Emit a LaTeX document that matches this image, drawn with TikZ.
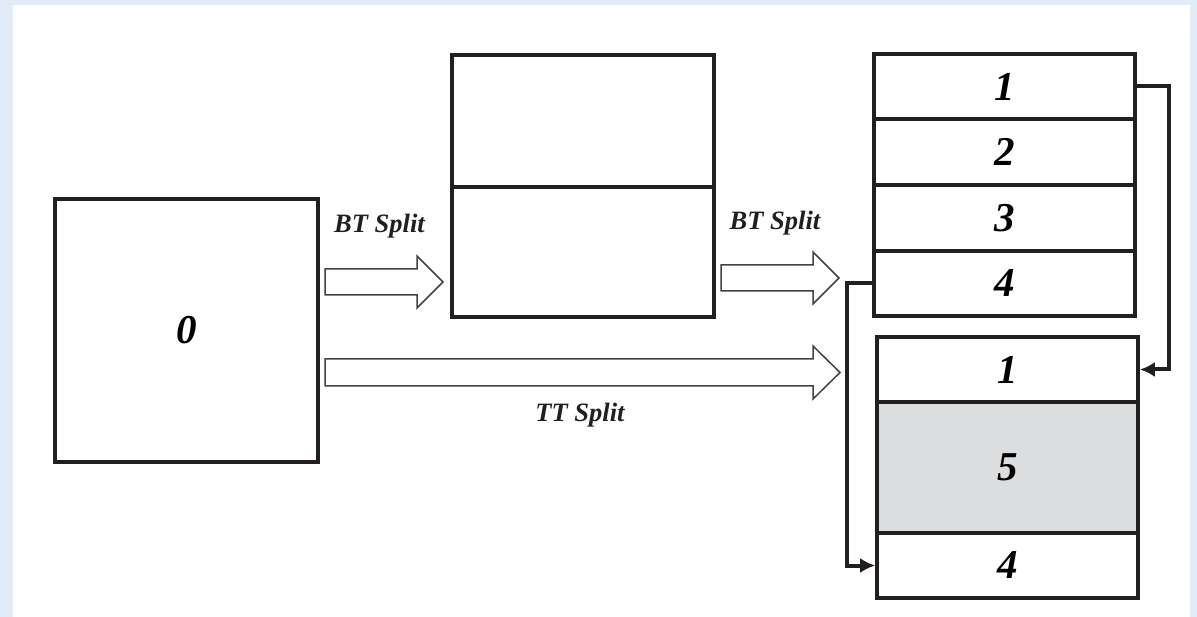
\documentclass[tikz,border=0pt]{standalone}
\usepackage{fontspec}
\setmainfont{Liberation Serif}
\usetikzlibrary{arrows.meta}
\definecolor{bgblue}{HTML}{E2ECF6}
\definecolor{ink}{HTML}{231F20}
\definecolor{cellgray}{HTML}{DCDDDF}
\begin{document}
\begin{tikzpicture}[x=1pt,y=-1pt,
  cell/.style={draw=ink, line width=3.6pt, minimum width=261pt, inner sep=0pt, font=\fontsize{41}{41}\selectfont\bfseries\itshape},
  lbl/.style={font=\fontsize{26.5}{26.5}\selectfont\bfseries\itshape, text=ink, inner sep=0pt},
  blockarrow/.style={draw=ink!85, line width=1.5pt, fill=white, line join=miter},
  conn/.style={draw=ink, line width=4pt, -{Latex[length=15pt,width=15pt]}}
]
\fill[bgblue] (0,0) rectangle (1197,617);
\fill[white] (13,5) rectangle (1190,617);
\useasboundingbox (0,0) rectangle (1197,617);

% box 0
\node[cell, minimum width=263pt, minimum height=263pt] (z) at (186.5,330.5) {0};

% middle box
\node[cell, minimum width=262pt, minimum height=132pt] (m1) at (583,121) {};
\node[cell, minimum width=262pt, minimum height=130pt] (m2) at (583,252) {};

% top right stack
\node[cell, minimum height=65pt] (t1) at (1004.5,86.5) {1};
\node[cell, minimum height=66pt] (t2) at (1004.5,152) {2};
\node[cell, minimum height=66pt] (t3) at (1004.5,218) {3};
\node[cell, minimum height=65pt] (t4) at (1004.5,283.5) {4};

% bottom right stack
\node[cell, minimum height=65pt] (b1) at (1007.5,369.5) {1};
\node[cell, fill=cellgray, minimum height=131pt] (b5) at (1007.5,467.5) {5};
\node[cell, minimum height=65pt] (b4) at (1007.5,565.5) {4};

% block arrows
\draw[blockarrow] (325,269) -- (417,269) -- (417,256) -- (443,282) -- (417,308) -- (417,295) -- (325,295) -- cycle;
\draw[blockarrow] (721,265) -- (813,265) -- (813,252) -- (839,278) -- (813,304) -- (813,291) -- (721,291) -- cycle;
\draw[blockarrow] (325,359) -- (813,359) -- (813,346) -- (840,372.5) -- (813,399) -- (813,386) -- (325,386) -- cycle;

% labels
\node[lbl] (l1) at (379.5,226) {BT Split};
\node[lbl] (l2) at (775,223) {BT Split};
\node[lbl] (l3) at (580,415) {TT Split};

% connectors
\draw[conn] (t1.east) -- ++(32,0) |- (b1.east);
\draw[conn] (t4.west) -- ++(-25,0) |- (b4.west);
\end{tikzpicture}
\end{document}
